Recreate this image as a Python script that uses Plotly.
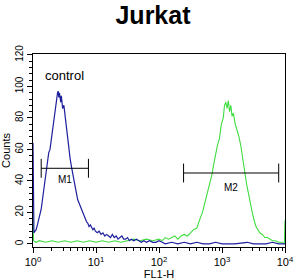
import numpy as np
import plotly.graph_objects as go

# ---- data; x in log10(FL1-H) ----
blue_logx = [0.000, 0.010, 0.015, 0.03, 0.05, 0.07, 0.09, 0.11, 0.13, 0.15, 0.17, 0.19, 0.21, 0.23,
             0.25, 0.27, 0.29, 0.31, 0.33, 0.35, 0.37, 0.39, 0.40, 0.41, 0.42, 0.44, 0.45, 0.47,
             0.49, 0.51, 0.53, 0.55, 0.57, 0.59, 0.61, 0.63, 0.65, 0.67, 0.69, 0.71, 0.73, 0.75,
             0.77, 0.79, 0.81, 0.83, 0.85, 0.87, 0.89, 0.91, 0.93, 0.95, 0.97, 0.99, 1.02, 1.05,
             1.08, 1.11, 1.14, 1.17, 1.20, 1.23, 1.26, 1.29, 1.32, 1.35, 1.38, 1.41, 1.44, 1.47,
             1.50, 1.53, 1.56, 1.60, 1.64, 1.68, 1.72, 1.76, 1.80, 1.85, 1.90, 1.95, 2.00, 2.05,
             2.10, 2.20, 2.30, 2.40, 2.50, 2.60, 2.70, 2.80, 2.90, 3.00, 3.20, 3.40, 3.50, 3.70,
             3.80, 3.90, 4.00]
blue_counts = [64, 40, 7, 8, 9, 12, 15, 18, 22, 28, 35, 40, 46, 52,
               58, 60, 66, 72, 78, 86, 92, 96, 97, 93, 96, 90, 94, 86,
               88, 81, 72, 66, 60, 54, 49, 44, 40, 35, 32, 28, 26, 24,
               21, 19, 17, 16, 14, 13, 11, 12, 10, 9, 10, 8, 7, 8,
               6, 7, 5, 6, 5, 4, 6, 4, 5, 3, 4, 5, 3, 3,
               4, 2, 3, 2, 3, 2, 1, 2, 1, 2, 1, 1, 2, 1,
               0, 1, 0, 1, 0, 1, 0, 0, 1, 0, 0, 1, 0, 0,
               1, 0, 0]

green_logx = [0.000, 0.008, 0.05, 0.10, 0.20, 0.30, 0.40, 0.50, 0.60, 0.70, 0.80, 0.90, 1.00,
              1.10, 1.20, 1.30, 1.40, 1.50, 1.60, 1.70, 1.80, 1.90, 2.00, 2.05, 2.10, 2.15,
              2.20, 2.25, 2.30, 2.35, 2.40, 2.45, 2.50, 2.55, 2.60, 2.63, 2.66, 2.69, 2.72,
              2.75, 2.78, 2.81, 2.84, 2.87, 2.90, 2.93, 2.96, 2.99, 3.02, 3.04, 3.06, 3.08,
              3.10, 3.12, 3.14, 3.16, 3.18, 3.21, 3.24, 3.27, 3.30, 3.33, 3.36, 3.39, 3.42,
              3.45, 3.48, 3.51, 3.54, 3.57, 3.60, 3.64, 3.68, 3.72, 3.76, 3.80, 3.85, 3.90,
              3.95, 3.99, 4.00]
green_counts = [21, 2, 1, 2, 1, 2, 1, 2, 1, 2, 1, 2, 1,
                2, 1, 2, 1, 2, 3, 2, 3, 2, 3, 2, 4, 3,
                4, 5, 3, 5, 6, 5, 7, 9, 10, 14, 17, 20, 25,
                30, 34, 38, 44, 51, 58, 63, 67, 76, 80, 88, 90, 86,
                91, 84, 88, 81, 83, 76, 72, 68, 62, 53, 45, 38, 32,
                25, 20, 15, 11, 9, 7, 6, 4, 4, 3, 2, 2, 1,
                1, 0, 15]

# gates: label, log10 start, log10 end, count level, label count level
gate_labels = ["M1", "M2"]
gate_start = [0.13, 2.39]
gate_end = [0.88, 3.90]
gate_level = [48, 45]
gate_label_y = [41, 36]

x_tickvals = [1, 10, 100, 1000, 10000]
x_ticktext = ["10<sup>0</sup>", "10<sup>1</sup>", "10<sup>2</sup>", "10<sup>3</sup>", "10<sup>4</sup>"]
y_tickvals = [0, 20, 40, 60, 80, 100, 120]

BLUE = "#1f1f9e"
GREEN = "#3fdc3f"
FONT = "Liberation Sans, Arial, sans-serif"

fig = go.Figure()
fig.add_trace(go.Scatter(x=[10 ** v for v in green_logx], y=green_counts, mode="lines",
                         line=dict(color=GREEN, width=1.1), showlegend=False, hoverinfo="skip"))
fig.add_trace(go.Scatter(x=[10 ** v for v in blue_logx], y=blue_counts, mode="lines",
                         line=dict(color=BLUE, width=1.2), showlegend=False, hoverinfo="skip"))

# gate markers
for lab, s, e, lev, ly in zip(gate_labels, gate_start, gate_end, gate_level, gate_label_y):
    xs = [10 ** s, 10 ** e, None, 10 ** s, 10 ** s, None, 10 ** e, 10 ** e]
    ys = [lev, lev, None, lev - 6, lev + 6, None, lev - 6, lev + 6]
    fig.add_trace(go.Scatter(x=xs, y=ys, mode="lines", line=dict(color="black", width=1),
                             showlegend=False, hoverinfo="skip"))
    fig.add_annotation(x=(s + e) / 2, y=ly, text=lab, showarrow=False,
                       font=dict(family=FONT, size=10, color="black"))

fig.add_annotation(x=0.16, y=107, text="control", showarrow=False, xanchor="left",
                   font=dict(family=FONT, size=13, color="black"))

fig.update_layout(
    width=306, height=280,
    margin=dict(l=33, r=21, t=54, b=33, autoexpand=False),
    paper_bgcolor="white", plot_bgcolor="white",
    title=dict(text="<b>Jurkat</b>", x=0.5, xanchor="center", y=0.945, yanchor="middle",
               font=dict(family=FONT, size=25, color="black")),
    font=dict(family=FONT, color="black"),
)
fig.update_xaxes(
    type="log", range=[0, 4], tickmode="array", tickvals=x_tickvals, ticktext=x_ticktext,
    ticks="outside", ticklen=5, tickcolor="black", tickfont=dict(family=FONT, size=11),
    showline=True, linecolor="black", linewidth=1, mirror=True, showgrid=False, zeroline=False,
    automargin=False,
    minor=dict(ticks="outside", ticklen=3, tickcolor="black", tickmode="array",
               tickvals=[m * 10 ** k for k in range(4) for m in range(2, 10)], showgrid=False),
    title=dict(text="FL1-H", font=dict(family=FONT, size=11), standoff=0),
)
fig.update_yaxes(
    range=[-2, 120.6], tickmode="array", tickvals=y_tickvals, tickangle=-90,
    ticks="outside", ticklen=5, tickcolor="black", tickfont=dict(family=FONT, size=10),
    showline=True, linecolor="black", linewidth=1, mirror=True, showgrid=False, zeroline=False,
    automargin=False,
    minor=dict(ticks="outside", ticklen=3, tickcolor="black", dtick=4, showgrid=False),
    title=dict(text="Counts", font=dict(family=FONT, size=11), standoff=2),
)

fig.write_html("out.html")
